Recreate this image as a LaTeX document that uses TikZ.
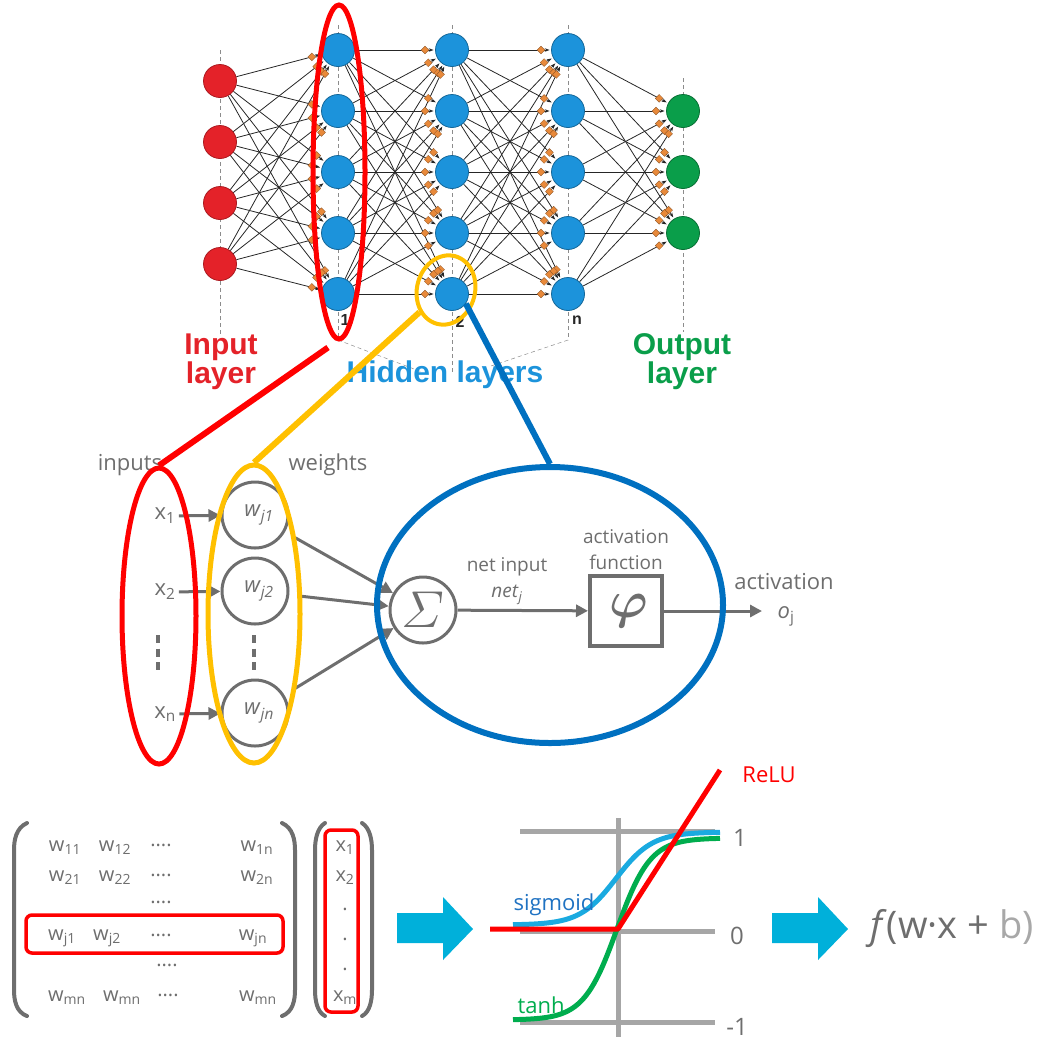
\documentclass[tikz,border=0pt]{standalone}
\usepackage{amsmath}
\usepackage{fontspec}
\setmainfont{Open Sans}
\newfontfamily\headfont{Liberation Sans}
\usetikzlibrary{shapes.geometric, arrows.meta, positioning, calc, backgrounds}

\definecolor{netred}{HTML}{E42229}
\definecolor{netblue}{HTML}{1C93DB}
\definecolor{netgreen}{HTML}{0A9E4A}
\definecolor{selred}{HTML}{FF0000}
\definecolor{selyellow}{HTML}{FFC000}
\definecolor{selblue}{HTML}{0070C0}
\definecolor{txtgray}{HTML}{6E6E6E}
\definecolor{wtorange}{HTML}{E8893A}
\definecolor{arrowcyan}{HTML}{00B0DA}
\definecolor{sigcyan}{HTML}{1AAAE0}
\definecolor{sigblue}{HTML}{1F72C2}
\definecolor{tanhgreen}{HTML}{00AD4E}
\definecolor{axisgray}{HTML}{A6A6A6}
\definecolor{bgray}{HTML}{A8A8A8}

\begin{document}
\begin{tikzpicture}[
    x=1pt, y=-1pt,
    every node/.style={font=\fontsize{22}{26}\selectfont, text=txtgray},
    neuron/.style={circle, minimum size=33pt, inner sep=0pt, line width=0.8pt},
    inneuron/.style={neuron, fill=netred, draw=netred!75!black},
    hidneuron/.style={neuron, fill=netblue, draw=netblue!70!black},
    outneuron/.style={neuron, fill=netgreen, draw=netgreen!70!black},
    wire/.style={draw=black!85, line width=0.8pt, -{Stealth[length=5pt,width=3.5pt]}, shorten >=1.5pt},
    wdot/.style={diamond, fill=wtorange, draw=wtorange!60!black, line width=0.3pt, inner sep=0pt, minimum size=8pt},
    guide/.style={draw=black!45, line width=0.5pt, dash pattern=on 4pt off 3pt},
    layerlbl/.style={font=\headfont\bfseries\fontsize{30}{29}\selectfont, align=center},
    numlbl/.style={font=\headfont\bfseries\fontsize{16}{16}\selectfont, text=black!85},
    sel/.style={ellipse, inner sep=0pt, line width=5pt},
    link/.style={line width=6pt},
    garrow/.style={draw=txtgray, line width=3pt, -{Triangle[length=12pt,width=12pt]}},
    gcirc/.style={circle, draw=txtgray, line width=3pt, minimum size=66pt, inner sep=0pt},
    vdash/.style={draw=txtgray, line width=4pt, dash pattern=on 8pt off 5.5pt},
    mat/.style={font=\fontsize{20}{22}\selectfont},
    paren/.style={draw=txtgray, line width=4pt, line cap=round},
    selbox/.style={draw=selred, line width=3.5pt, rounded corners=6pt, inner sep=0pt},
    axis/.style={draw=axisgray, line width=5pt},
    curve/.style={line width=5pt, line join=round},
    bigarrow/.style={fill=arrowcyan}
]
\useasboundingbox (0,0) rectangle (1043,1037);

% Network layers
\foreach \i in {1,...,4}
  \node[inneuron] (in\i) at (220, {81+61*(\i-1)}) {};
\foreach \lay/\x in {ha/338, hb/452, hc/568}
  \foreach \j in {1,...,5}
    \node[hidneuron] (\lay\j) at (\x, {50+61*(\j-1)}) {};
\foreach \k in {1,...,3}
  \node[outneuron] (out\k) at (683, {111+61*(\k-1)}) {};

% Guides, wires and weights behind the neurons
\begin{scope}[on background layer]
  \draw[guide] (220,50) -- (220,335);
  \draw[guide] (338,25) -- (338,340);
  \draw[guide] (452,25) -- (452,372);
  \draw[guide] (568,25) -- (568,340);
  \draw[guide] (683,78) -- (683,332);
  \draw[guide] (338,340) -- (422,372);
  \draw[guide] (568,340) -- (491,366);
  \foreach \src/\dst/\ns/\nd in {in/ha/4/5, ha/hb/5/5, hb/hc/5/5, hc/out/5/3}
    \foreach \i in {1,...,\ns}
      \foreach \j in {1,...,\nd}
        \draw[wire] (\src\i) -- (\dst\j);
  \foreach \src/\dst/\ns/\nd in {in/ha/4/5, ha/hb/5/5, hb/hc/5/5, hc/out/5/3}
    \foreach \i in {1,...,\ns}
      \foreach \j in {1,...,\nd}
        \node[wdot] (d-\src\i-\dst\j) at ($(\dst\j)!27pt!(\src\i)$) {};
\end{scope}

% Layer labels
\node[numlbl] (num1) at (345,320) {1};
\node[numlbl] (num2) at (460,322) {2};
\node[numlbl] (numn) at (577,320) {n};
\node[layerlbl, text=netred] (inlayer) at (221,362) {Input\\layer};
\node[layerlbl, text=netblue] (hidlayer) at (445,375) {Hidden layers};
\node[layerlbl, text=netgreen] (outlayer) at (682,362) {Output\\layer};

% Highlights on the network
\node[sel, draw=selred, minimum width=52pt, minimum height=334pt] (selin) at (339,172) {};
\node[sel, draw=selyellow, line width=4pt, minimum width=58pt, minimum height=70pt, rotate=-15] (selw) at (446,290) {};

% Single neuron
\node (inputs) at (130,465) {inputs};
\node (weights) at (328,465) {weights};
\node (x1) at (165,516) {x\textsubscript{1}};
\node (x2) at (165,592) {x\textsubscript{2}};
\node (xn) at (165,714) {x\textsubscript{n}};
\node[gcirc] (w1) at (255,515) {\hspace{8pt}\textit{w}\textsubscript{\textit{j1}}};
\node[gcirc] (w2) at (255,591) {\hspace{8pt}\textit{w}\textsubscript{\textit{j2}}};
\node[gcirc] (wn) at (255,713) {\hspace{8pt}\textit{w}\textsubscript{\textit{jn}}};
\draw[vdash] (158,635) -- (158,670);
\draw[vdash] (254,635) -- (254,670);
\draw[garrow] (x1) -- (w1);
\draw[garrow] (x2) -- (w2);
\draw[garrow] (xn) -- (wn);

\node[gcirc] (sum) at (423,610) {\scalebox{2.5}{$\varSigma$}};
\node[draw=txtgray, line width=4pt, minimum width=72pt, minimum height=70pt, inner sep=0pt] (phi) at (626,611) {\hspace{6pt}\scalebox{2.5}{$\boldsymbol{\varphi}$}};
\coordinate (oj) at (762,611);
\draw[garrow, shorten <=12pt] (w1) -- (sum);
\draw[garrow, shorten <=12pt] (w2) -- (sum);
\draw[garrow, shorten <=12pt] (wn) -- (sum);
\draw[garrow] (sum) -- (phi);
\draw[garrow] (phi) -- (oj);
\node[font=\fontsize{19}{26}\selectfont, align=center] (netin) at (507,581) {net input\\\textit{net}\textsubscript{\textit{j}}};
\node[font=\fontsize{19}{26}\selectfont, align=center] (actfn) at (626,550) {activation\\function};
\node (act) at (784,582) {activation};
\node (ojl) at (786,616) {\textit{o}\textsubscript{j}};

\node[sel, draw=selred, minimum width=74pt, minimum height=296pt] (inell) at (159,616) {};
\node[sel, draw=selyellow, minimum width=92pt, minimum height=298pt] (well) at (254,614) {};
\node[sel, draw=selblue, line width=6pt, minimum width=346pt, minimum height=276pt] (neuron) at (550,605) {};

% Zoom links
\draw[link, selred] ([xshift=-11pt,yshift=-6pt]selin.south) -- (inell.north);
\draw[link, selyellow] (selw.235) -- (well.north);
\draw[link, selblue] (hb5.-35) -- (neuron.north);

% Weight matrix and input vector
\foreach \txt/\x/\y [count=\k] in {
    w\textsubscript{11}/65/848, w\textsubscript{12}/115/848, ····/161/848, w\textsubscript{1n}/257/848,
    w\textsubscript{21}/65/878, w\textsubscript{22}/115/878, ····/161/878, w\textsubscript{2n}/257/878,
    ····/161/905,
    w\textsubscript{j1}/62/938, w\textsubscript{j2}/107/938, ····/161/938, w\textsubscript{jn}/253/938,
    ····/167/968,
    w\textsubscript{mn}/67/998, w\textsubscript{mn}/122/998, ····/168/998, w\textsubscript{mn}/258/998}
  \node[mat] (m\k) at (\x,\y) {\txt};
\foreach \txt/\y [count=\k] in {x\textsubscript{1}/848, x\textsubscript{2}/878, ·/912, ·/942, ·/972, x\textsubscript{m}/998}
  \node[mat] (v\k) at (345,\y) {\txt};
\draw[paren] (27,823) .. controls (16,828) and (14,840) .. (14,850) -- (14,990) .. controls (14,1000) and (16,1012) .. (27,1016);
\draw[paren] (282,823) .. controls (293,828) and (295,840) .. (295,850) -- (295,990) .. controls (295,1000) and (293,1012) .. (282,1016);
\draw[paren] (325,823) .. controls (317,828) and (315,840) .. (315,850) -- (315,990) .. controls (315,1000) and (317,1012) .. (325,1016);
\draw[paren] (362,823) .. controls (370,828) and (372,840) .. (372,850) -- (372,990) .. controls (372,1000) and (370,1012) .. (362,1016);
\node[selbox, minimum width=257pt, minimum height=38pt] (rowj) at (154.5,934) {};
\node[selbox, minimum width=33pt, minimum height=182pt] (colx) at (341.5,921) {};

% Big arrows
\fill[bigarrow, shift={(397,928)}] (0,-15) -- (46,-15) -- (46,-31) -- (76,1) -- (46,32) -- (46,15) -- (0,15) -- cycle;
\fill[bigarrow, shift={(772,928)}] (0,-15) -- (46,-15) -- (46,-31) -- (76,1) -- (46,32) -- (46,15) -- (0,15) -- cycle;

% Activation functions
\draw[axis] (520,831) -- (715,831);
\draw[axis] (520,931) -- (715,931);
\draw[axis] (520,1022) -- (715,1022);
\draw[axis] (618,818) -- (618,1037);
\node[font=\fontsize{24}{26}\selectfont] (one) at (740,838) {1};
\node[font=\fontsize{24}{26}\selectfont] (zero) at (737,936) {0};
\node[font=\fontsize{24}{26}\selectfont] (mone) at (737,1027) {-1};
\draw[curve, sigcyan] plot[domain=513:720, samples=80] (\x, {925-93/(1+exp(-0.055*(\x-616)))});
\draw[curve, tanhgreen] plot[domain=513:720, samples=80] (\x, {929-91*tanh(0.03*(\x-617))});
\draw[curve, selred] (490,929) -- (618,929) -- (720,770);
\node[text=selred] (relu) at (769,775) {ReLU};
\node[text=sigblue] (sigl) at (554,905) {sigmoid};
\node[text=tanhgreen] (tanhl) at (541,1005) {tanh};

\node[font=\fontsize{38}{42}\selectfont] (fx) at (952,929) {\textit{f}(w·x + \textcolor{bgray}{b)}};

\end{tikzpicture}
\end{document}
